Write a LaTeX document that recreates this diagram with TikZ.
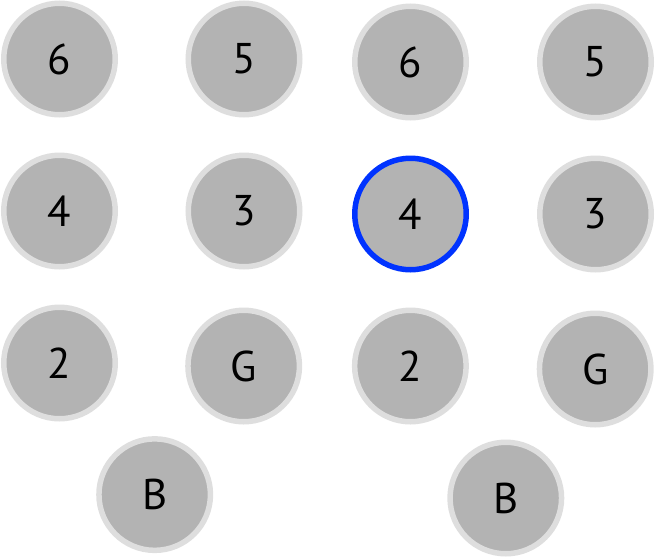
\documentclass[tikz,border=0pt]{standalone}
\usepackage{fontspec}
\setmainfont{PT Sans}
\definecolor{cfill}{HTML}{B3B3B3}
\definecolor{cring}{HTML}{DEDEDE}
\definecolor{cblue}{HTML}{0033FF}
\begin{document}
\begin{tikzpicture}[x=1pt,y=-1pt,
  disc/.style={circle,fill=cfill,draw=cring,line width=5.5pt,minimum size=111.5pt,inner sep=0pt,
    font=\fontsize{43}{43}\selectfont,text=black},
  hl/.style={draw=cblue}]
\useasboundingbox (0,0) rectangle (655,557);
\node[disc] (a1) at (59.5,59) {6};
\node[disc] (a2) at (244,59) {5};
\node[disc] (a3) at (410.5,62) {6};
\node[disc] (a4) at (595.5,62) {5};
\node[disc] (b1) at (59.5,211) {4};
\node[disc] (b2) at (244,211) {3};
\node[disc,hl] (b3) at (410.5,214) {4};
\node[disc] (b4) at (595.5,214) {3};
\node[disc] (c1) at (59.5,363) {2};
\node[disc] (c2) at (243.7,366) {G};
\node[disc] (c3) at (410.4,366) {2};
\node[disc] (c4) at (595.2,369) {G};
\node[disc] (d1) at (154.7,494.6) {B};
\node[disc] (d2) at (505.8,498) {B};
\end{tikzpicture}
\end{document}
